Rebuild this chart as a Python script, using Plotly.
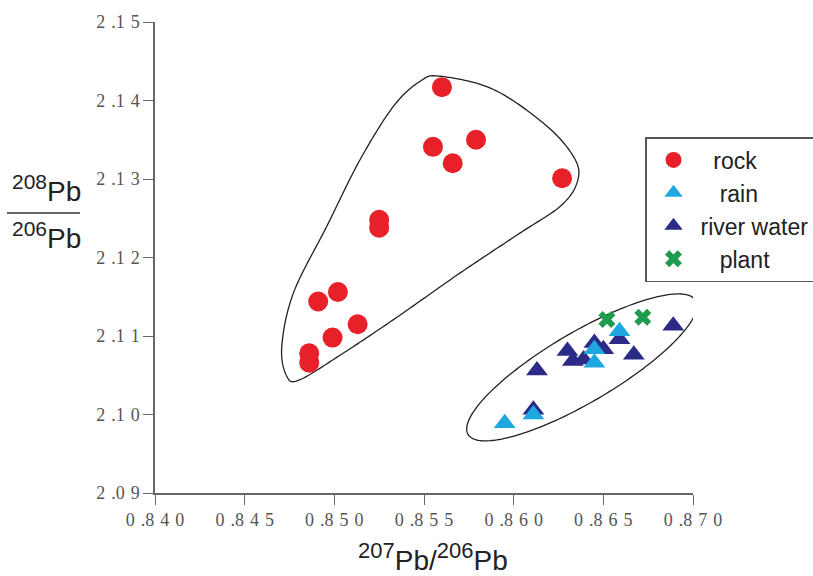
import numpy as np
import plotly.graph_objects as go

# ---------------- data ----------------
rock_x = [0.8560, 0.8555, 0.8579, 0.8566, 0.8627, 0.8525, 0.8525, 0.8502, 0.8491, 0.8513, 0.8499, 0.8486, 0.8486]
rock_y = [2.1417, 2.1341, 2.1350, 2.1320, 2.1301, 2.1248, 2.1238, 2.1156, 2.1144, 2.1115, 2.1098, 2.1078, 2.1066]

rain_x = [0.8659, 0.8645, 0.8645, 0.8611, 0.8595]
rain_y = [2.1106, 2.1083, 2.1066, 2.1000, 2.0989]

river_x = [0.8689, 0.8659, 0.8667, 0.8630, 0.8633, 0.8645, 0.8650, 0.8639, 0.8613, 0.8611]
river_y = [2.1113, 2.1096, 2.1076, 2.1081, 2.1068, 2.1091, 2.1083, 2.1070, 2.1056, 2.1006]

plant_x = [0.8652, 0.8672]
plant_y = [2.1121, 2.1124]

x_ticks = [0.840, 0.845, 0.850, 0.855, 0.860, 0.865, 0.870]
y_ticks = [2.09, 2.10, 2.11, 2.12, 2.13, 2.14, 2.15]

X_RANGE = [0.840, 0.870]
Y_RANGE = [2.09, 2.15]

# ---------------- layout constants ----------------
W, H = 813, 576
ML, MR, MT, MB = 155, 120, 22, 83
PW, PH = W - ML - MR, H - MT - MB

SP = "\u2004"
NB = "\u00a0"


def spaced(label):
    a, b = label.split(".")
    return a + SP + "." + SP.join(b)


x_ticktext = [spaced(f"{v:.3f}") for v in x_ticks]
y_ticktext = [spaced(f"{v:.2f}") for v in y_ticks]

# ---------------- enclosure outlines (decoration) ----------------
rock_outline = [
    (0.85590, 2.14309), (0.85888, 2.14140), (0.86186, 2.13672), (0.86343, 2.13248),
    (0.86353, 2.12951), (0.86260, 2.12653), (0.86037, 2.12314), (0.85702, 2.11804),
    (0.85330, 2.11209), (0.85051, 2.10784), (0.84809, 2.10444), (0.84735, 2.10486),
    (0.84707, 2.10868), (0.84772, 2.11549), (0.84958, 2.12398), (0.85144, 2.13248),
    (0.85330, 2.13927), (0.85479, 2.14246),
]


def closed_catmull(pts, n=20):
    P = np.array(pts)
    m = len(P)
    out = []
    for i in range(m):
        p0, p1, p2, p3 = P[(i - 1) % m], P[i], P[(i + 1) % m], P[(i + 2) % m]
        for t in np.linspace(0, 1, n, endpoint=False):
            out.append(0.5 * (2 * p1 + (-p0 + p2) * t + (2 * p0 - 5 * p1 + 4 * p2 - p3) * t ** 2
                              + (-p0 + 3 * p1 - 3 * p2 + p3) * t ** 3))
    return np.array(out)


def path_from(arr):
    return "M " + " L ".join(f"{x:.6f},{y:.6f}" for x, y in arr) + " Z"


rock_curve = closed_catmull(rock_outline)

# water ellipse (pixel-space geometry converted to data units)
ell_c = (0.8638, 2.1060)
ell_a, ell_b, ell_th = 132, 35, np.radians(30.5)
sx = (X_RANGE[1] - X_RANGE[0]) / PW
sy = (Y_RANGE[1] - Y_RANGE[0]) / PH
tt = np.linspace(0, 2 * np.pi, 200)
ex = ell_c[0] + (ell_a * np.cos(tt) * np.cos(ell_th) - ell_b * np.sin(tt) * np.sin(ell_th)) * sx
ey = ell_c[1] + (ell_a * np.cos(tt) * np.sin(ell_th) + ell_b * np.sin(tt) * np.cos(ell_th)) * sy
ell_curve = np.column_stack([ex, ey])

# ---------------- figure ----------------
fig = go.Figure()

fig.add_trace(go.Scatter(x=rock_x, y=rock_y, mode="markers", name=NB * 2 + "rock", legendrank=1,
                         marker=dict(symbol="circle", size=20, color="#E8202A")))
fig.add_trace(go.Scatter(x=river_x, y=river_y, mode="markers", name="river water", legendrank=3,
                         marker=dict(symbol="triangle-up", size=19, color="#2B2A86")))
fig.add_trace(go.Scatter(x=rain_x, y=rain_y, mode="markers", name=NB * 3 + "rain", legendrank=2,
                         marker=dict(symbol="triangle-up", size=19, color="#1FA8DF")))
fig.add_trace(go.Scatter(x=plant_x, y=plant_y, mode="markers", name=NB * 3 + "plant", legendrank=4,
                         marker=dict(symbol="x", size=15, color="#1E9B4E", line=dict(width=0))))

shapes = [
    dict(type="path", xref="x", yref="y", path=path_from(rock_curve),
         line=dict(color="#222", width=1.3), layer="below"),
    dict(type="path", xref="x", yref="y", path=path_from(ell_curve),
         line=dict(color="#222", width=1.3), layer="below"),
    # fraction bar of the y-axis title
    dict(type="line", xref="paper", yref="paper",
         x0=(7 - ML) / PW, x1=(80 - ML) / PW,
         y0=(H - MB - 213) / PH, y1=(H - MB - 213) / PH,
         line=dict(color="#333", width=1.5)),
]

title_font = dict(family="Liberation Sans, Arial, sans-serif", size=28, color="#222")
annotations = [
    dict(xref="paper", yref="paper", x=(46 - ML) / PW, y=(H - MB - 209) / PH,
         xanchor="center", yanchor="bottom", showarrow=False, font=title_font,
         text="<sup><span style='font-size:21px'>208</span></sup>Pb"),
    dict(xref="paper", yref="paper", x=(46 - ML) / PW, y=(H - MB - 215) / PH,
         xanchor="center", yanchor="top", showarrow=False, font=title_font,
         text="<sup><span style='font-size:21px'>206</span></sup>Pb"),
    dict(xref="paper", yref="paper", x=(433 - ML) / PW, y=(H - MB - 578) / PH,
         xanchor="center", yanchor="bottom", showarrow=False, font=title_font,
         text="<sup><span style='font-size:22px'>207</span></sup>Pb/<sup><span style='font-size:22px'>206</span></sup>Pb"),
]

tick_font = dict(family="Liberation Serif, Times New Roman, serif", size=18, color="#555")

fig.update_layout(
    width=W, height=H,
    margin=dict(l=ML, r=MR, t=MT, b=MB, pad=0, autoexpand=False),
    paper_bgcolor="white", plot_bgcolor="white",
    shapes=shapes, annotations=annotations,
    showlegend=True,
    legend=dict(x=(645 - ML) / PW, y=(H - MB - 137) / PH, xanchor="left", yanchor="top",
                bgcolor="white", bordercolor="#555", borderwidth=1.5,
                font=dict(family="Liberation Sans, Arial, sans-serif", size=23, color="#222"),
                itemsizing="trace", itemwidth=44),
    xaxis=dict(range=X_RANGE, tickmode="array", tickvals=x_ticks, ticktext=x_ticktext,
               showgrid=False, zeroline=False, showline=True, linecolor="#666", linewidth=1.5,
               ticks="outside", ticklen=10, tickcolor="#666", tickwidth=1.2, tickfont=tick_font),
    yaxis=dict(range=Y_RANGE, tickmode="array", tickvals=y_ticks, ticktext=y_ticktext,
               showgrid=False, zeroline=False, showline=True, linecolor="#666", linewidth=1.5,
               ticks="outside", ticklen=10, tickcolor="#666", tickwidth=1.2, tickfont=tick_font),
)

fig.write_html("out.html")
